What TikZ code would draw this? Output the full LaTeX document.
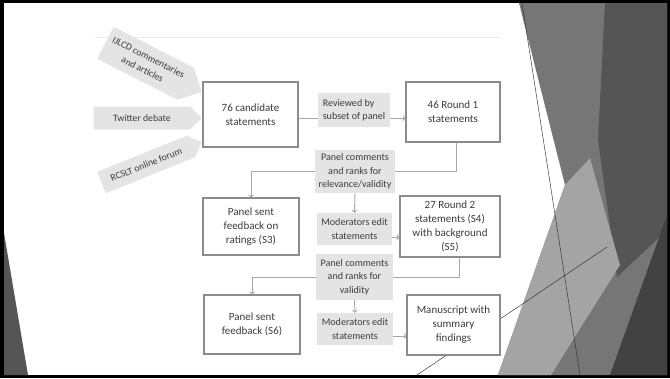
\documentclass[tikz,border=0pt]{standalone}
\usepackage{fontspec}
\setmainfont{Carlito}
\usetikzlibrary{shapes.symbols,arrows.meta}

\definecolor{boxline}{HTML}{8C8C8C}
\definecolor{tagfill}{HTML}{E4E4E4}
\definecolor{wiregray}{HTML}{A8A8A8}
\definecolor{ink}{HTML}{3C3C3C}
\definecolor{facetmid}{HTML}{767676}
\definecolor{facetdark}{HTML}{555555}
\definecolor{facetlight}{HTML}{A4A4A4}
\definecolor{facetdeep}{HTML}{424242}
\newcommand{\boxfont}{\fontsize{9.4}{12}\selectfont}
\newcommand{\tagfont}{\fontsize{8.6}{11.4}\selectfont}
\newcommand{\srcfont}{\fontsize{8.3}{11.6}\selectfont}

\begin{document}
\begin{tikzpicture}[x=0.3mm, y=-0.3mm,
        card/.style={draw=boxline, line width=0.9pt, fill=white, text=ink, align=center, font=\boxfont, inner sep=2pt},
        tag/.style={fill=tagfill, text=ink, align=center, font=\tagfont, inner sep=2pt},
        source/.style={signal, signal to=east, fill=tagfill, text=ink, align=center, font=\srcfont, minimum width=3.24cm, inner sep=2pt},
        link/.style={draw=wiregray, line width=0.8pt},
        linkto/.style={link, -{To[length=2.5pt, width=4.5pt]}}
    ]

    % slide frame
    \useasboundingbox (0,0) rectangle (670,378);
    \fill[black] (0,0) rectangle (670,378);
    \fill[white] (4,3) rectangle (667,375);

    % facets on the right and the corner wedge
    \fill[facetmid] (519,3) -- (667,3) -- (667,375) -- (498,375) -- (565,185) -- cycle;
    \fill[facetdark] (605,3) -- (667,3) -- (667,230) -- (617,277) -- (598,140) -- cycle;
    \fill[facetlight] (498,375) -- (565,185) -- (590,158) -- (620,265) -- (551,375) -- cycle;
    \fill[facetdeep] (610,375) -- (667,215) -- (667,375) -- cycle;
    \fill[facetdark] (4,233) -- (28,375) -- (4,375) -- cycle;
    \draw[black!80, line width=0.4pt] (522,3) -- (580,375);
    \draw[black!80, line width=0.4pt] (417,375) -- (607,247);
    \draw[black!8] (95,37) -- (500,37);

    % three sources feeding the candidate pool
    \foreach \n/\ang/\y/\h/\txt in {1/-27/92/1.08cm/{IJLCD commentaries\\and articles},
                                    2/0/118/0.69cm/{Twitter debate},
                                    3/22/142/0.69cm/{RCSLT online forum}} {
            \node[source, rotate=\ang, minimum height=\h, anchor=east] (src\n) at (202,\y) {\txt};
        }

    % statement boxes
    \node[card, minimum width=2.85cm, minimum height=1.95cm] (cand) at (250.5,114.5) {76 candidate\\statements};
    \node[card, minimum width=2.82cm, minimum height=1.8cm] (round1) at (453,112) {46 Round 1\\statements};
    \node[card, minimum width=2.88cm, minimum height=1.71cm] (fb1) at (251,226.5) {Panel sent\\feedback on\\ratings (S3)};
    \node[card, minimum width=3cm, minimum height=1.83cm] (round2) at (450,226.5) {27 Round 2\\statements (S4)\\with background\\(S5)};
    \node[card, minimum width=2.88cm, minimum height=1.77cm] (fb2) at (252,324.5) {Panel sent\\feedback (S6)};
    \node[card, minimum width=2.79cm, minimum height=1.8cm] (final) at (453.5,325) {Manuscript with\\summary\\findings};

    % grey step labels
    \node[tag, align=left, minimum width=2.16cm, minimum height=1.02cm] (review) at (354,110) {Reviewed by\\subset of panel};
    \node[tag, minimum width=2.4cm, minimum height=1.29cm] (rank1) at (355,171.5) {Panel comments\\and ranks for\\relevance/validity};
    \node[tag, minimum width=2.25cm, minimum height=0.96cm] (edit1) at (354.5,229) {Moderators edit\\statements};
    \node[tag, minimum width=2.31cm, minimum height=1.38cm] (rank2) at (354.5,277) {Panel comments\\and ranks for\\validity};
    \node[tag, minimum width=2.28cm, minimum height=0.96cm] (edit2) at (355,329) {Moderators edit\\statements};

    % connectors
    \draw[link] ([yshift=-3pt]cand.east) -- ([yshift=-3pt]cand.east -| review.west);
    \draw[linkto] ([yshift=-3pt]review.east |- cand.east) -- ([yshift=-3pt]round1.west |- cand.east);
    \draw[link] ([xshift=3pt]round1.south) |- (rank1.east);
    \draw[linkto] (rank1.west) -| (fb1.north);
    \draw[link] ([xshift=8pt]round2.south) |- (rank2.east);
    \draw[linkto] (rank2.west) -| (fb2.north);
    \foreach \a/\b in {rank1/edit1, rank2/edit2} {
            \draw[linkto] (\a.south) -- (\b.north);
        }
    \draw[linkto] ([yshift=-7pt]edit1.east) -- ([yshift=-7pt]edit1.east -| round2.west);
    \draw[linkto] ([yshift=-6pt]edit2.east) -- ([yshift=-6pt]edit2.east -| final.west);
\end{tikzpicture}
\end{document}
